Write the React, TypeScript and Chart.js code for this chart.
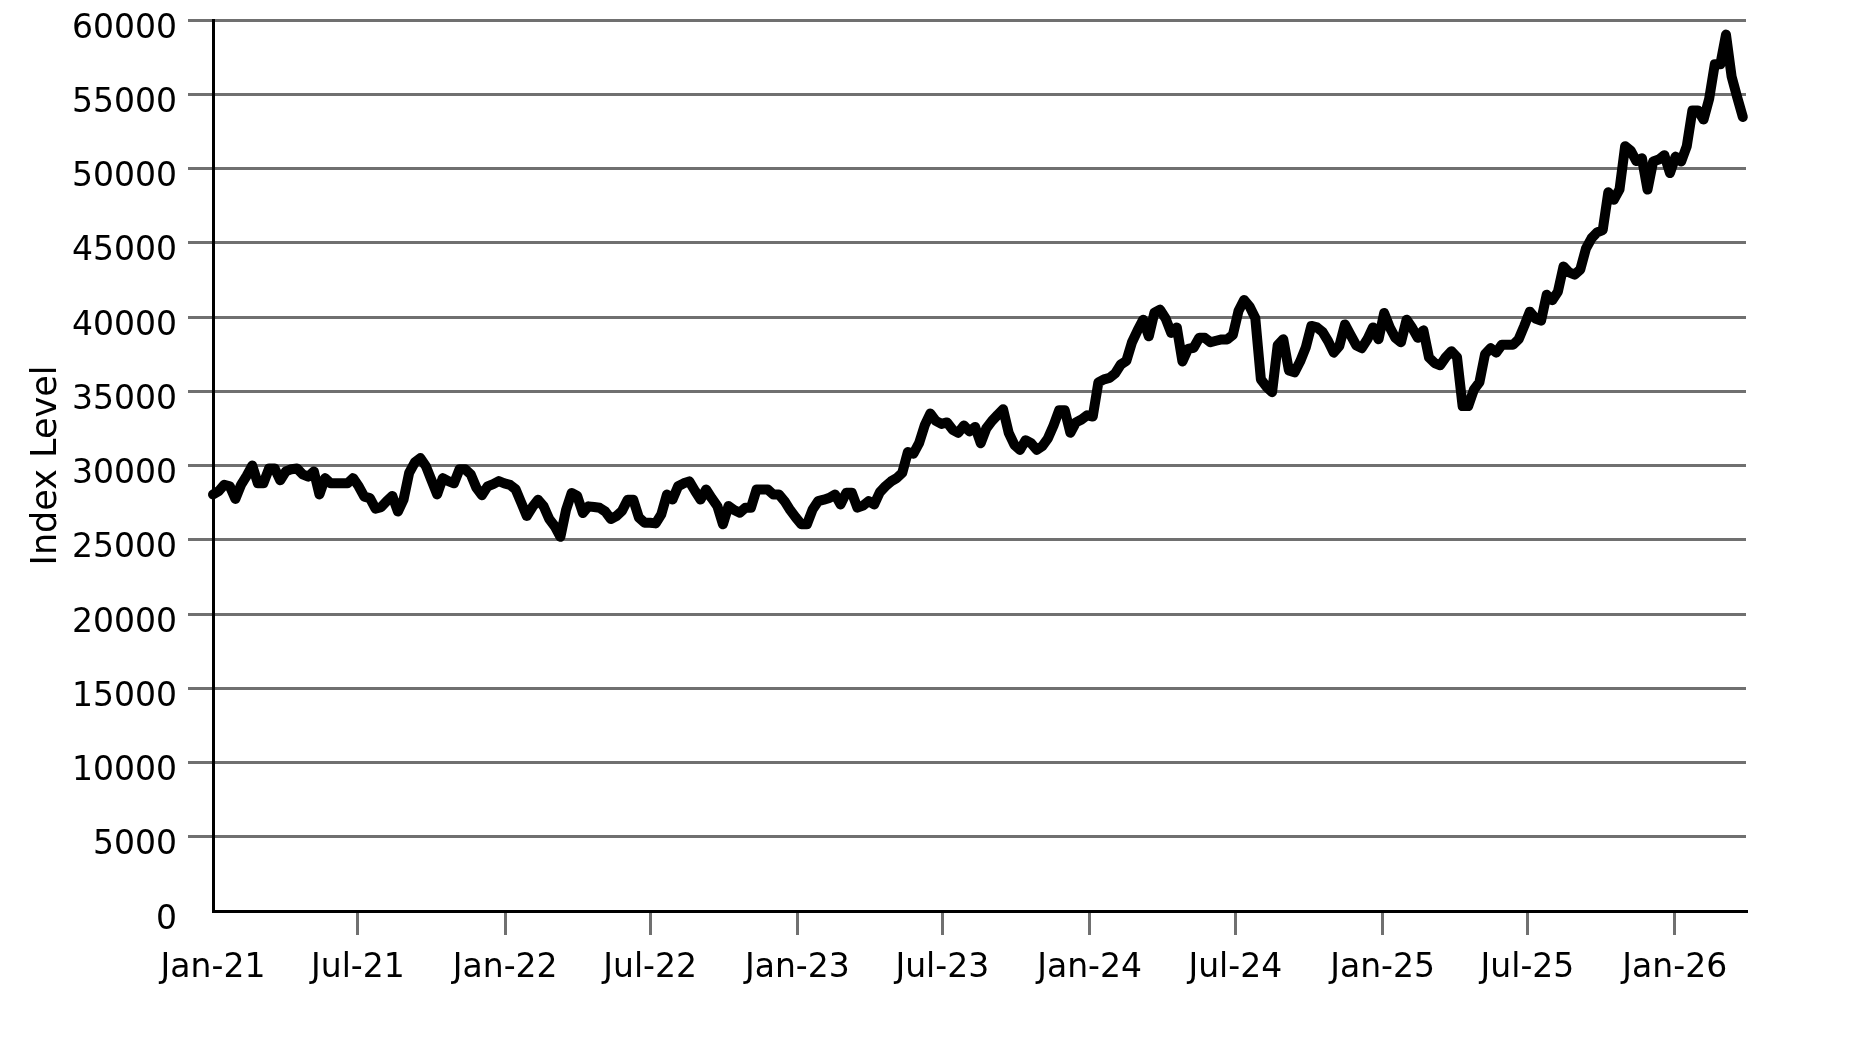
import React, { useEffect, useRef } from "react";
import { Chart, registerables } from "chart.js";

Chart.register(...registerables);

// ---- data ----
const START_DATE = "2021-01-01";
const WEEK_DAYS = 7;
const END_MARGIN_DAYS = 4;

const indexValues: number[] = [
  28050, 28270, 28700, 28600, 27750, 28700, 29300, 30000, 28800, 28800,
  29800, 29800, 29000, 29600, 29750, 29800, 29400, 29250, 29600, 28050,
  29150, 28800, 28800, 28800, 28800, 29150, 28600, 27900, 27800, 27100,
  27200, 27600, 27950, 26900, 27700, 29500, 30200, 30500, 29950, 29000,
  28050, 29150, 28950, 28800, 29750, 29750, 29400, 28500, 28000, 28600,
  28750, 28950, 28800, 28700, 28400, 27500, 26600, 27200, 27700, 27250,
  26400, 25900, 25200, 27000, 28150, 27950, 26800, 27250, 27200, 27150,
  26900, 26400, 26600, 26950, 27700, 27700, 26500, 26150, 26150, 26100,
  26710, 28040, 27710, 28600, 28800, 28930, 28300, 27710, 28380, 27800,
  27270, 26040, 27270, 27000, 26820, 27160, 27160, 28380, 28380, 28380,
  28040, 28040, 27600, 27000, 26500, 26040, 26040, 27040, 27600, 27700,
  27820, 28040, 27380, 28160, 28160, 27160, 27300, 27600, 27380, 28200,
  28600, 28930, 29150, 29500, 30900, 30800, 31500, 32700, 33500, 33000,
  32800, 32900, 32400, 32200, 32700, 32300, 32600, 31500, 32500, 33000,
  33400, 33780, 32200, 31400, 31050, 31700, 31500, 31050, 31300, 31830,
  32700, 33720, 33720, 32200, 32900, 33100, 33380, 33300, 35600, 35800,
  35900, 36200, 36800, 37050, 38300, 39100, 39820, 38700, 40300, 40500,
  39900, 38930, 39300, 37000, 37850, 37930, 38600, 38600, 38300, 38400,
  38490, 38490, 38800, 40400, 41150, 40700, 39930, 35800, 35300, 34940,
  38100, 38500, 36400, 36270, 37000, 37930, 39400, 39300, 39000, 38380,
  37600, 38050, 39500, 38800, 38100, 37900, 38500, 39300, 38500, 40270,
  39300, 38600, 38300, 39820, 39270, 38600, 39100, 37270, 36900, 36750,
  37300, 37700, 37300, 34000, 34000, 35100, 35600, 37500, 37900, 37600,
  38130, 38130, 38130, 38500, 39400, 40360, 39900, 39750, 41500, 41130,
  41700, 43400, 43000, 42850, 43200, 44600, 45300, 45700, 45850, 48400,
  47900, 48600, 51500, 51200, 50500, 50690, 48580, 50470, 50600, 50900,
  49690, 50800, 50470, 51500, 53910, 53910, 53300, 54700, 57020, 57020,
  59020, 56200, 54800, 53470,
];

const tickDates: string[] = [
  "2021-01-01", "2021-07-01", "2022-01-01", "2022-07-01", "2023-01-01", "2023-07-01",
  "2024-01-01", "2024-07-01", "2025-01-01", "2025-07-01", "2026-01-01",
];
const tickLabels: string[] = [
  "Jan-21", "Jul-21", "Jan-22", "Jul-22", "Jan-23", "Jul-23",
  "Jan-24", "Jul-24", "Jan-25", "Jul-25", "Jan-26",
];

const Y_MIN = 0;
const Y_MAX = 60000;
const Y_STEP = 5000;
const Y_TITLE = "Index Level";

// ---- helpers ----
const DAY_MS = 86400000;
const dayOf = (s: string) =>
  Math.round((Date.parse(s + "T00:00:00Z") - Date.parse(START_DATE + "T00:00:00Z")) / DAY_MS);

const FONT = "'DejaVu Sans', sans-serif";
const GRID = "#707070";

export default function App() {
  const ref = useRef<HTMLCanvasElement | null>(null);

  useEffect(() => {
    document.body.style.margin = "0";
    const canvas = ref.current;
    if (!canvas) return;

    const points = indexValues.map((v, i) => ({ x: i * WEEK_DAYS, y: v }));
    const tickValues = tickDates.map(dayOf);

    const chart = new Chart(canvas, {
      type: "line",
      data: {
        datasets: [
          {
            data: points,
            borderColor: "#000000",
            borderWidth: 10,
            borderJoinStyle: "round",
            borderCapStyle: "round",
            pointRadius: 0,
            tension: 0,
            fill: false,
            clip: false,
          },
        ],
      },
      options: {
        animation: false,
        responsive: false,
        devicePixelRatio: 1,
        layout: { padding: { top: 20, left: 0, right: 129, bottom: 0 } },
        plugins: {
          legend: { display: false },
          tooltip: { enabled: false },
        },
        scales: {
          x: {
            type: "linear",
            min: 0,
            max: (indexValues.length - 1) * WEEK_DAYS + END_MARGIN_DAYS,
            afterBuildTicks: (scale: any) => {
              scale.ticks = tickValues.map((v) => ({ value: v }));
            },
            afterFit: (scale: any) => {
              scale.height = 131;
            },
            ticks: {
              autoSkip: false,
              maxRotation: 0,
              minRotation: 0,
              padding: 14,
              color: "#000",
              font: { family: FONT, size: 33 },
              callback: (_v: any, i: number) => tickLabels[i],
            },
            grid: {
              drawOnChartArea: false,
              drawTicks: true,
              tickLength: 24,
              lineWidth: 3,
              color: (ctx: any) => (ctx.index === 0 ? "rgba(0,0,0,0)" : GRID),
            },
            border: { display: true, color: "#000", width: 3 },
          },
          y: {
            type: "linear",
            min: Y_MIN,
            max: Y_MAX,
            afterFit: (scale: any) => {
              scale.width = 213;
              scale.paddingTop = 0;
              scale.paddingBottom = 0;
            },
            ticks: {
              stepSize: Y_STEP,
              padding: 11,
              color: "#000",
              font: { family: FONT, size: 33, lineHeight: 0.55 },
              // empty first line nudges the number slightly below its gridline
              callback: (v: any) => ["", String(v)],
            },
            grid: {
              drawTicks: true,
              tickLength: 25,
              lineWidth: 3,
              color: (ctx: any) => (ctx.tick && ctx.tick.value === 0 ? "rgba(0,0,0,0)" : GRID),
            },
            border: { display: true, color: "#000", width: 3 },
            title: {
              display: true,
              text: Y_TITLE,
              color: "#000",
              font: { family: FONT, size: 35 },
              padding: { top: 26, bottom: 0 },
            },
          },
        },
      },
    });

    return () => chart.destroy();
  }, []);

  return (
    <div
      style={{
        position: "fixed",
        left: 0,
        top: 0,
        width: 1875,
        height: 1042,
        background: "#fff",
        overflow: "hidden",
      }}
    >
      <canvas ref={ref} width={1875} height={1042} style={{ display: "block" }} />
    </div>
  );
}
